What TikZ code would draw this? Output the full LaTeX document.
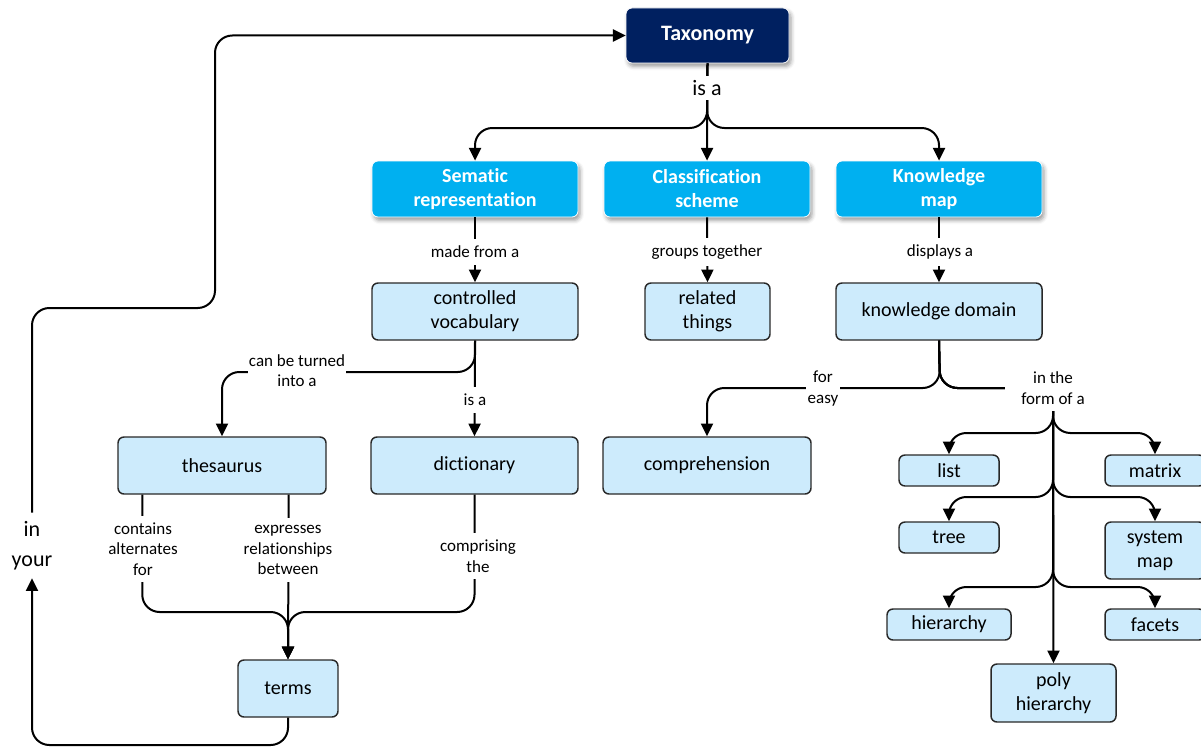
\documentclass[tikz,border=0pt]{standalone}
\usepackage{fontspec}
\setmainfont{Carlito}[RawFeature={-liga;-clig;-dlig;-calt}]
\usetikzlibrary{arrows.meta,shadows.blur,calc}
\definecolor{navy}{RGB}{0,32,96}
\definecolor{headblue}{RGB}{0,176,240}
\definecolor{paleblue}{RGB}{205,235,252}
\definecolor{edgegray}{RGB}{40,40,40}
\begin{document}
\begin{tikzpicture}[x=0.75pt,y=-0.75pt,
  boxsize/.style 2 args={minimum width=#1*0.75pt, minimum height=#2*0.75pt},
  softshadow/.style={blur shadow={shadow xshift=1.5pt, shadow yshift=-2.5pt,
      shadow blur radius=3pt, shadow opacity=40}},
  rootbox/.style={fill=navy, draw=white, line width=0.6pt, text=white,
      rounded corners=4.5pt, align=center, inner sep=2pt, softshadow,
      font=\fontsize{16.5}{20}\selectfont\bfseries},
  headbox/.style={fill=headblue, draw=white, line width=0.6pt, text=white,
      rounded corners=4.5pt, align=center, inner sep=2pt, softshadow,
      font=\fontsize{15}{18}\selectfont\bfseries},
  termbox/.style={fill=paleblue, draw=edgegray, line width=1.1pt,
      rounded corners=4.5pt, align=center, inner sep=2pt,
      font=\fontsize{15}{18}\selectfont},
  linkline/.style={line width=1.5pt, rounded corners=13pt,
      -{Triangle[length=9.5pt,width=9pt]}},
  linklabel/.style={fill=white, inner xsep=1pt, inner ysep=5pt, align=center,
      font=\fontsize{12.75}{15.5}\selectfont},
]
\useasboundingbox (0,0) rectangle (1201,749);
\clip (0,0) rectangle (1201,749);

% ---------- concept boxes ----------
\node[rootbox, boxsize={163}{55}] (tax) at (707.5,35.5) {Taxonomy};

\node[headbox, boxsize={206}{56}] (sem) at (475,189) {Sematic\\representation};
\node[headbox, boxsize={206}{56}] (cls) at (707,189) {Classification\\scheme};
\node[headbox, boxsize={206}{56}] (km)  at (939,189) {Knowledge\\map};

\node[termbox, boxsize={206}{57}] (cv) at (475,311.5) {controlled\\vocabulary};
\node[termbox, boxsize={125}{57}] (rt) at (707.5,311.5) {related\\things};
\node[termbox, boxsize={206}{57}] (kd) at (939,311.5) {knowledge domain};

\node[termbox, boxsize={208}{57}] (thes) at (222,465.5) {thesaurus};
\node[termbox, boxsize={207}{57}] (dict) at (474.5,465.5) {dictionary};
\node[termbox, boxsize={208}{57}] (comp) at (707,465.5) {comprehension};
\node[termbox, boxsize={100}{57}] (terms) at (288,688.5) {terms};

\node[termbox, boxsize={100}{31}] (list)   at (949,470.5)  {list};
\node[termbox, boxsize={100}{31}] (matrix) at (1155,470.5) {matrix};
\node[termbox, boxsize={100}{31}] (tree)   at (949,537.5)  {tree};
\node[termbox, boxsize={100}{57}] (sysmap) at (1155,550.5) {system\\map};
\node[termbox, boxsize={124}{31}] (hier)   at (949,624.5)  {hierarchy};
\node[termbox, boxsize={100}{31}] (facets) at (1155,624.5) {facets};
\node[termbox, boxsize={125}{58}] (poly)   at (1053.5,693) {poly\\hierarchy};

% label that the return loop passes through
\node[inner sep=0pt, boxsize={60}{65}, align=center,
      font=\fontsize{16.5}{22.5}\selectfont] (inyour) at (32,545.5) {in\\your};

% ---------- junction points ----------
\coordinate (tj) at (707,128);
\coordinate (cj) at (475,372);
\coordinate (kj) at (940,388);
\coordinate (fj) at (1053,388);
\coordinate (b1) at (1053,433);
\coordinate (b2) at (1053,497);
\coordinate (b3) at (1053,587);
\coordinate (mj) at (288,612);
\coordinate (lc) at (32,745);
\coordinate (uc) at (215,308);

% ---------- connectors ----------
\draw[linkline] (tax.south) -- (tj) -| (sem.north);
\draw[linkline] (tax.south) -- (cls.north);
\draw[linkline] (tax.south) -- (tj) -| (km.north);

\draw[linkline] (sem.south) -- (cv.north);
\draw[linkline] (cls.south) -- (rt.north);
\draw[linkline] (km.south) -- (kd.north);

\draw[linkline] (cv.south) -- (cj) -| (thes.north);
\draw[linkline] (cv.south) -- (dict.north);

\draw[linkline] (kd.south) -- (kj) -| (comp.north);
\draw[linkline] (kd.south) -- (kj) -- (fj) -- (b1) -| (list.north);
\draw[linkline] (kd.south) -- (kj) -- (fj) -- (b1) -| (matrix.north);
\draw[linkline] (fj) -- (b2) -| (tree.north);
\draw[linkline] (fj) -- (b2) -| (sysmap.north);
\draw[linkline] (fj) -- (b3) -| (hier.north);
\draw[linkline] (fj) -- (b3) -| (facets.north);
\draw[linkline] (kd.south) -- (kj) -- (fj) -- (poly.north);

\draw[linkline] ($(thes.south west)+(25,0)$) |- (mj) -- (terms.north);
\draw[linkline] ($(thes.south east)+(-38,0)$) -- (terms.north);
\draw[linkline] (dict.south) |- (mj) -- (terms.north);

\draw[linkline] (terms.south) |- (lc) -- (inyour.south);
\draw[linkline] (inyour.north) |- (uc) |- (tax.west);

% ---------- link labels ----------
\node[linklabel, inner ysep=3pt, font=\fontsize{16.5}{20}\selectfont] at (707,88) {is a};
\node[linklabel] at (475,252) {made from a};
\node[linklabel] at (707,252) {groups together};
\node[linklabel] at (940,252) {displays a};
\node[linklabel] at (297,370.5) {can be turned\\into a};
\node[linklabel] at (475,400) {is a};
\node[linklabel] at (823,388.5) {for\\easy};
\node[linklabel, inner xsep=12pt] at (1053,388) {in the\\form of a};
\node[linklabel] at (143,549) {contains\\alternates\\for};
\node[linklabel] at (288,550) {expresses\\relationships\\between};
\node[linklabel] at (478,556) {comprising\\the};
\end{tikzpicture}
\end{document}
